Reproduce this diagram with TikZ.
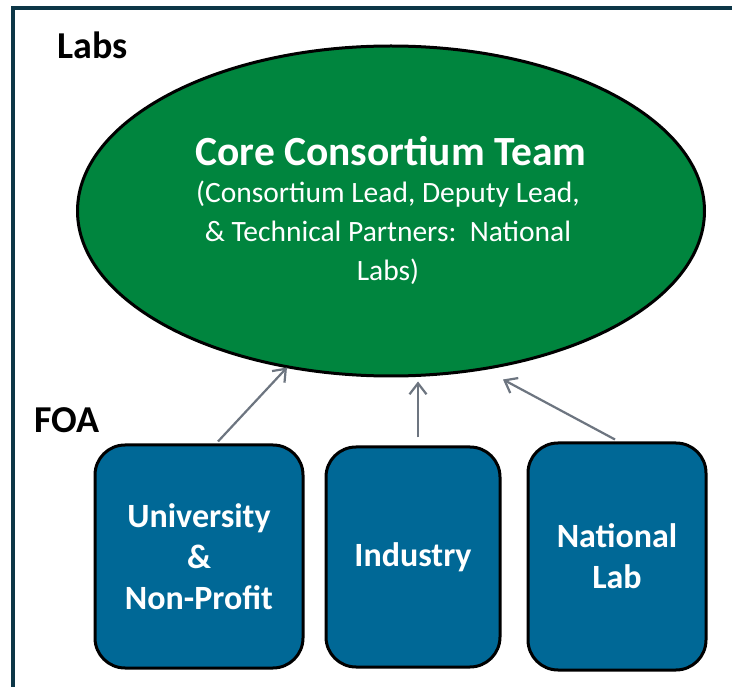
\documentclass[tikz,border=0pt]{standalone}
\usepackage{fontspec}
\setmainfont{Carlito}
\usetikzlibrary{shapes.geometric,arrows.meta,calc}
\definecolor{framec}{HTML}{0D3647}
\definecolor{coregreen}{HTML}{00853E}
\definecolor{boxblue}{HTML}{006896}
\definecolor{arrowgray}{HTML}{6D7580}
\tikzset{
  boxnode/.style={draw=black, line width=3pt, fill=boxblue, rounded corners=30pt, inner sep=0pt, text=white, align=center, font=\fontsize{34}{41}\selectfont\bfseries},
  arr/.style={draw=arrowgray, line width=2.2pt, -{Straight Barb[length=11pt,width=17pt,line width=2.2pt]}},
  lbl/.style={font=\fontsize{38}{44}\selectfont\bfseries, text=black, inner sep=0pt}
}
\begin{document}
\begin{tikzpicture}[x=1pt,y=-1pt]
\useasboundingbox (0,0) rectangle (732,687);
\fill[white] (0,0) rectangle (732,687);
% frame
\draw[framec, line width=4pt] (13,687) -- (13,8) -- (732,8);
% labels
\node[lbl, anchor=west] (labs) at (57,45) {Labs};
\node[lbl, anchor=west] (foa) at (34,420) {FOA};
% core ellipse
\node[ellipse, draw=black, line width=3pt, fill=coregreen, minimum width=627pt, minimum height=330pt, inner sep=0pt] (core) at (391,211) {};
\node[text=white, font=\fontsize{41.5}{48}\selectfont\bfseries, inner sep=0pt] (title) at (391,151) {Core Consortium Team};
\node[text=white, font=\fontsize{29.5}{39}\selectfont, align=center, inner sep=0pt] (sub) at (388,233) {(Consortium Lead, Deputy Lead,\\\& Technical Partners:\ \ National\\Labs)};
% boxes
\node[boxnode, minimum width=208pt, minimum height=223pt] (univ) at (199,556.5) {University\\\&\\Non-Profit};
\node[boxnode, minimum width=174pt, minimum height=220pt] (ind) at (413,557) {\raisebox{-4pt}{Industry}};
\node[boxnode, minimum width=178pt, minimum height=227pt] (nat) at (617,556.5) {National\\Lab};
% arrows
\draw[arr] ([xshift=19pt,yshift=2pt]univ.north) -- ([xshift=-104pt,yshift=10pt]core.south);
\draw[arr] ([xshift=5pt,yshift=8pt]ind.north) -- ([xshift=27pt,yshift=-4pt]core.south);
\draw[arr] ([xshift=-2pt,yshift=2pt]nat.north) -- ([xshift=112pt,yshift=-2pt]core.south);
\end{tikzpicture}
\end{document}
